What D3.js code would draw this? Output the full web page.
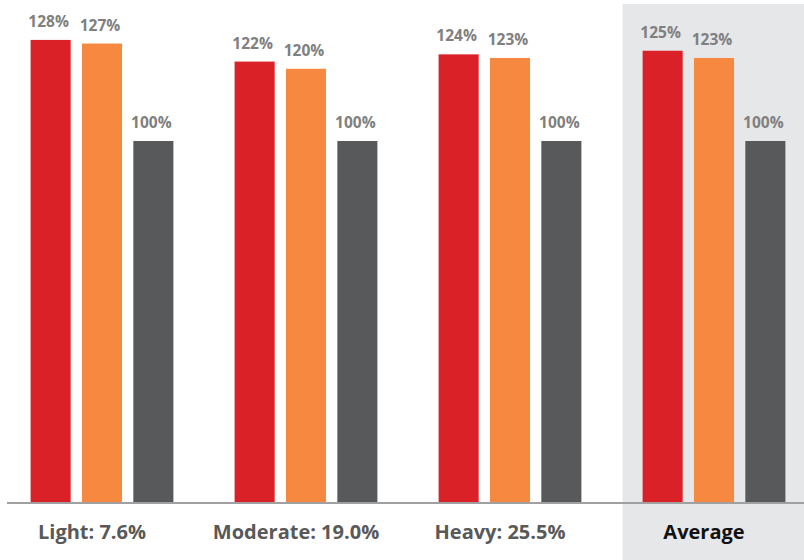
<html lang="en">
<head>
<meta charset="UTF-8">
<script src="https://d3js.org/d3.v7.min.js"></script>
<style>
  body { margin: 0; background: #fff; }
</style>
</head>
<body>
<div id="chart"></div>
<script>
  const categories = ["Light: 7.6%", "Moderate: 19.0%", "Heavy: 25.5%", "Average"];
  const series = ["a", "b", "c"];
  const valuesA = [128, 122, 124, 125];
  const valuesB = [127, 120, 123, 123];
  const valuesC = [100, 100, 100, 100];

  const colors = { a: "#da2128", b: "#f6883f", c: "#58595b" };
  const W = 804, H = 560, base = 502;

  const svg = d3.select("#chart").append("svg")
    .attr("width", W)
    .attr("height", H);

  const x0 = d3.scaleBand()
    .domain(categories)
    .range([0, 816])
    .paddingInner(0.3)
    .paddingOuter(0.15);

  const x1 = d3.scaleBand()
    .domain(series)
    .range([0, x0.bandwidth()])
    .paddingInner(0.22);

  const y = d3.scaleLinear()
    .domain([0, 100])
    .range([base, 141]);

  // shaded panel behind the average group
  svg.append("rect")
    .attr("x", x0("Average") - 20)
    .attr("y", 4)
    .attr("width", W - (x0("Average") - 20))
    .attr("height", H - 4)
    .attr("fill", "#e6e7e9");

  const rows = categories.map((c, i) => ({
    cat: c,
    vals: [
      { key: "a", v: valuesA[i] },
      { key: "b", v: valuesB[i] },
      { key: "c", v: valuesC[i] }
    ]
  }));

  const groups = svg.selectAll("g.grp")
    .data(rows)
    .enter().append("g")
    .attr("class", "grp")
    .attr("transform", d => "translate(" + x0(d.cat) + ",0)");

  groups.selectAll("rect")
    .data(d => d.vals)
    .enter().append("rect")
    .attr("x", d => x1(d.key))
    .attr("y", d => y(d.v))
    .attr("width", x1.bandwidth())
    .attr("height", d => base - y(d.v))
    .attr("fill", d => colors[d.key]);

  groups.selectAll("text.val")
    .data(d => d.vals)
    .enter().append("text")
    .attr("class", "val")
    .attr("x", d => x1(d.key) + x1.bandwidth() / 2 - 2)
    .attr("y", d => y(d.v) - 13)
    .attr("text-anchor", "middle")
    .attr("font-family", "'Open Sans', Lato, sans-serif")
    .attr("font-weight", "bold")
    .attr("font-size", 15.5)
    .attr("fill", "#808080")
    .text(d => d.v + "%");

  // baseline
  svg.append("line")
    .attr("x1", 7).attr("x2", W)
    .attr("y1", base + 1).attr("y2", base + 1)
    .attr("stroke", "#a0a0a0")
    .attr("stroke-width", 2);

  // category labels
  svg.selectAll("text.cat")
    .data(categories)
    .enter().append("text")
    .attr("class", "cat")
    .attr("x", d => x0(d) + x0.bandwidth() / 2 - 10)
    .attr("y", 539)
    .attr("text-anchor", "middle")
    .attr("font-family", "'Open Sans', Lato, sans-serif")
    .attr("font-weight", "bold")
    .attr("font-size", 20)
    .attr("fill", d => d === "Average" ? "#111" : "#595959")
    .text(d => d);
</script>
</body>
</html>
